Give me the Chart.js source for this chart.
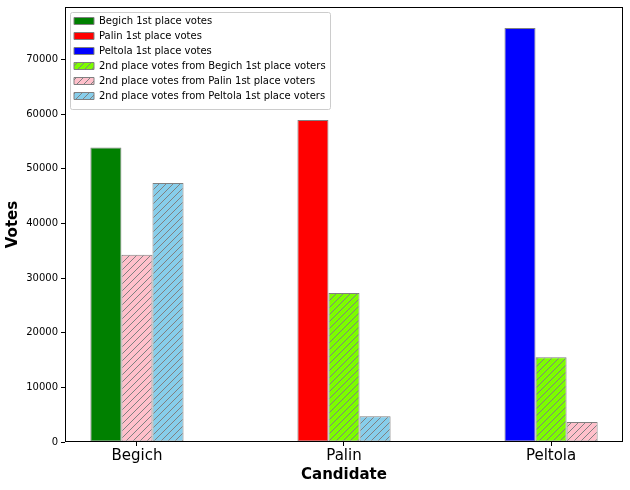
<!DOCTYPE html>
<html>
<head>
<meta charset="utf-8">
<script src="https://cdn.jsdelivr.net/npm/chart.js@4"></script>
<style>
  body { margin: 0; background: #fff; }
</style>
</head>
<body>
<canvas id="votes-chart" width="630" height="490"></canvas>
<script>
const candidates = ["Begich", "Palin", "Peltola"];

// first place votes, one per candidate
const firstPlace = [53900, 58900, 75750];

// second place votes, by the 1st place choice of the voter (null = own candidate)
const secondFromBegich = [null, 27250, 15500];
const secondFromPalin = [34250, null, 3650];
const secondFromPeltola = [47400, 4700, null];

const yTicks = [0, 10000, 20000, 30000, 40000, 50000, 60000, 70000];
const yMax = 79600;

const font = "DejaVu Sans";
const ctx = document.getElementById("votes-chart").getContext("2d");

function hatch(color) {
  const size = 7;
  const tile = document.createElement("canvas");
  tile.width = tile.height = size;
  const g = tile.getContext("2d");
  g.fillStyle = color;
  g.fillRect(0, 0, size, size);
  g.strokeStyle = "gray";
  g.lineWidth = 1;
  g.beginPath();
  g.moveTo(-1, size + 1);
  g.lineTo(size + 1, -1);
  g.moveTo(-1, 1);
  g.lineTo(1, -1);
  g.moveTo(size - 1, size + 1);
  g.lineTo(size + 1, size - 1);
  g.stroke();
  return ctx.createPattern(tile, "repeat");
}

function onlyAt(k) {
  return candidates.map((c, i) => (i === k ? firstPlace[k] : null));
}

function bar(label, data, color) {
  return {
    label: label,
    data: data,
    backgroundColor: color,
    borderColor: "gray",
    borderWidth: 1,
    borderSkipped: false,
  };
}

// put the legend a bit inside the axes and draw a frame behind it
const legendFrame = {
  id: "legendFrame",
  afterLayout(chart) {
    const lg = chart.legend;
    const a = chart.chartArea;
    const w = lg.right - lg.left;
    const h = lg.bottom - lg.top;
    lg.left = a.left + 4; lg.right = lg.left + w;
    lg.top = a.top + 4; lg.bottom = lg.top + h;
  },
  beforeDraw(chart) {
    const lg = chart.legend;
    const c = chart.ctx;
    const pad = 5;
    c.save();
    c.font = "10px '" + font + "'";
    let maxW = 0;
    lg.legendItems.forEach((it) => { maxW = Math.max(maxW, c.measureText(it.text).width); });
    const x0 = Math.round(lg.left + pad - 4) + 0.5;
    const y0 = Math.round(lg.top + pad - 4) + 0.5;
    const x1 = Math.round(lg.left + pad + 20 + 5 + maxW + 4) + 0.5;
    const y1 = Math.round(lg.top + pad + lg.legendItems.length * 15 + 3) + 0.5;
    c.beginPath();
    c.roundRect(x0, y0, x1 - x0, y1 - y0, 2);
    c.fillStyle = "rgba(255,255,255,0.8)";
    c.fill();
    c.strokeStyle = "#cccccc";
    c.lineWidth = 1;
    c.stroke();
    c.restore();
  },
  afterDraw(chart) {
    const a = chart.chartArea;
    const c = chart.ctx;
    c.save();
    c.strokeStyle = "#000";
    c.lineWidth = 1;
    c.strokeRect(a.left + 0.5, a.top + 0.5, a.right - a.left - 1, a.bottom - a.top - 1);
    c.restore();
  },
};

new Chart(ctx, {
  type: "bar",
  data: {
    labels: candidates.map((c, i) => i),
    datasets: [
      bar("Begich 1st place votes", onlyAt(0), "green"),
      bar("Palin 1st place votes", onlyAt(1), "red"),
      bar("Peltola 1st place votes", onlyAt(2), "blue"),
      bar("2nd place votes from Begich 1st place voters", secondFromBegich, hatch("lawngreen")),
      bar("2nd place votes from Palin 1st place voters", secondFromPalin, hatch("pink")),
      bar("2nd place votes from Peltola 1st place voters", secondFromPeltola, hatch("skyblue")),
    ],
  },
  options: {
    responsive: false,
    animation: false,
    layout: { padding: { top: 7, right: 7, left: 0, bottom: 0 } },
    datasets: {
      bar: { skipNull: true, barPercentage: 1, categoryPercentage: 0.45 },
    },
    scales: {
      x: {
        type: "linear",
        offset: false,
        min: -0.3475,
        max: 2.3475,
        afterBuildTicks: (scale) => {
          scale.ticks = candidates.map((c, i) => ({ value: i }));
        },
        afterFit: (scale) => {
          scale.height = 48;
          scale.paddingLeft = 0;
          scale.paddingRight = 0;
        },
        grid: { offset: false, drawOnChartArea: false, drawTicks: true, tickLength: 4, color: "#000", tickColor: "#000" },
        border: { display: false },
        ticks: {
          autoSkip: false,
          maxRotation: 0,
          padding: 1,
          color: "#000",
          font: { family: font, size: 15 },
          callback: (v) => candidates[v],
        },
        title: {
          display: true,
          text: "Candidate",
          color: "#000",
          font: { family: font, size: 15, weight: "bold" },
          padding: { top: 0, bottom: 6 },
        },
      },
      y: {
        min: 0,
        max: yMax,
        afterBuildTicks: (scale) => {
          scale.ticks = yTicks.map((v) => ({ value: v }));
        },
        afterFit: (scale) => {
          scale.width = 65;
          scale.paddingTop = 0;
          scale.paddingBottom = 0;
        },
        grid: { drawOnChartArea: false, drawTicks: true, tickLength: 4, color: "#000", tickColor: "#000" },
        border: { display: false },
        ticks: {
          padding: 3,
          color: "#000",
          font: { family: font, size: 10 },
          callback: (v) => String(v),
        },
        title: {
          display: true,
          text: "Votes",
          color: "#000",
          font: { family: font, size: 15, weight: "bold" },
          padding: { top: 4, bottom: 0 },
        },
      },
    },
    plugins: {
      tooltip: { enabled: false },
      legend: {
        position: "chartArea",
        align: "start",
        labels: {
          boxWidth: 20,
          boxHeight: 7,
          padding: 5,
          color: "#000",
          font: { family: font, size: 10 },
        },
      },
    },
  },
  plugins: [legendFrame],
});
</script>
</body>
</html>
